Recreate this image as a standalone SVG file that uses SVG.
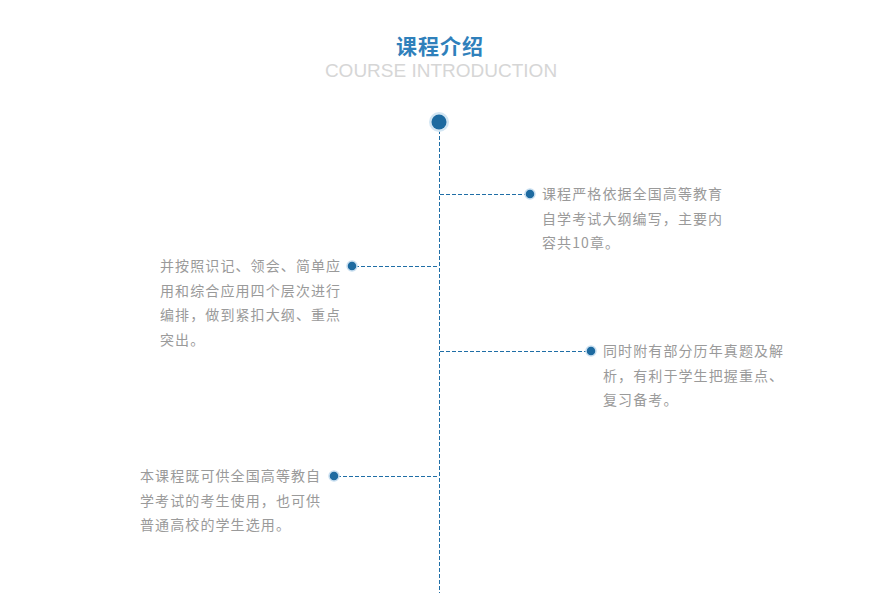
<svg xmlns="http://www.w3.org/2000/svg" width="880" height="593" viewBox="0 0 880 593">
<style>
.t{font-family:"Noto Sans CJK SC","Liberation Sans",sans-serif;font-size:14px;fill:#9a9a9a;letter-spacing:1.1px}
.ln{stroke:#1f6ea6;stroke-width:1;stroke-dasharray:4 2;fill:none}
.dot{fill:#1d6aa0;stroke:#c9dff0;stroke-width:1.5}
</style>
<rect width="880" height="593" fill="#fff"/>
<g id="title">
<text x="440" y="54" text-anchor="middle" font-family="Noto Sans CJK SC,sans-serif" font-size="21" font-weight="bold" fill="#2f80bb" letter-spacing="1">课程介绍</text>
<text x="441" y="77" text-anchor="middle" font-family="Liberation Sans,Arial,sans-serif" font-size="19" fill="#d6d6d6">COURSE INTRODUCTION</text>
</g>
<g id="connectors">
<line class="ln" x1="439.5" y1="130" x2="439.5" y2="593"/>
<line class="ln" x1="440" y1="194.5" x2="528" y2="194.5"/>
<line class="ln" x1="355" y1="266.5" x2="439" y2="266.5"/>
<line class="ln" x1="440" y1="351.5" x2="589" y2="351.5"/>
<line class="ln" x1="337" y1="476.5" x2="439" y2="476.5"/>
</g>
<g id="start">
<circle cx="439" cy="122" r="10" fill="#d3e6f3"/>
<circle cx="439" cy="122" r="7.5" fill="#1d6aa0"/>
</g>
<g id="node1">
<circle class="dot" cx="530" cy="194" r="5"/>
<text class="t" x="542" y="199">课程严格依据全国高等教育</text>
<text class="t" x="542" y="223.5">自学考试大纲编写，主要内</text>
<text class="t" x="542" y="248">容共10章。</text>
</g>
<g id="node2">
<circle class="dot" cx="352" cy="266" r="5"/>
<text class="t" x="160" y="271">并按照识记、领会、简单应</text>
<text class="t" x="160" y="295.5">用和综合应用四个层次进行</text>
<text class="t" x="160" y="320">编排，做到紧扣大纲、重点</text>
<text class="t" x="160" y="344.5">突出。</text>
</g>
<g id="node3">
<circle class="dot" cx="591" cy="351" r="5"/>
<text class="t" x="603" y="356">同时附有部分历年真题及解</text>
<text class="t" x="603" y="380.5">析，有利于学生把握重点、</text>
<text class="t" x="603" y="405">复习备考。</text>
</g>
<g id="node4">
<circle class="dot" cx="334" cy="476" r="5"/>
<text class="t" x="140" y="481">本课程既可供全国高等教自</text>
<text class="t" x="140" y="505.5">学考试的考生使用，也可供</text>
<text class="t" x="140" y="530">普通高校的学生选用。</text>
</g>
</svg>
